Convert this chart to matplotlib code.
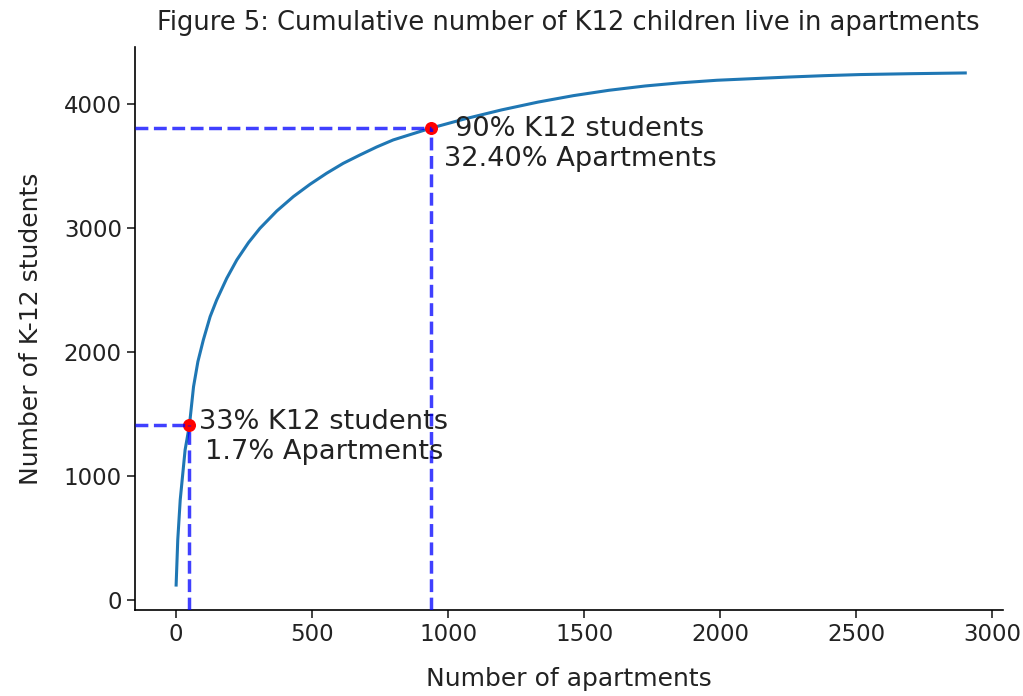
import matplotlib
matplotlib.use('Agg')
import matplotlib.pyplot as plt

# cumulative curve (apartments sorted by number of K12 kids)
apartments = [0, 6, 15, 33, 49, 64, 80, 100, 125, 149, 186, 223, 266, 308, 370, 431, 492,
              553, 614, 676, 737, 798, 859, 935, 1060, 1196, 1330, 1460, 1590, 1724,
              1850, 1987, 2251, 2380, 2514, 2700, 2900]
students = [120, 484, 806, 1210, 1411, 1720, 1922, 2097, 2285, 2419, 2594, 2742, 2882, 2997,
            3137, 3253, 3352, 3441, 3521, 3589, 3653, 3710, 3752, 3804, 3879, 3952, 4015,
            4067, 4110, 4145, 4170, 4191, 4217, 4228, 4237, 4244, 4250]

# marked points
mark_x = [49, 935]
mark_y = [1411, 3804]
mark_labels = ['33% K12 students\n1.7% Apartments', '90% K12 students\n32.40% Apartments']
label_offsets = [(10, -12), (13, -16)]

xlim = (-151, 3037)
ylim = (-81, 4460)

fig = plt.figure(figsize=(10.23, 6.96), dpi=100)
ax = fig.add_axes([0.132, 0.1236, 0.848, 0.809])

ax.plot(apartments, students, color='#1f77b4', lw=2.2)
ax.scatter(mark_x, mark_y, color='red', s=70, zorder=3)

for mx, my in zip(mark_x, mark_y):
    ax.plot([xlim[0], mx], [my, my], color='blue', ls='--', lw=2.5, alpha=0.75, zorder=4)
    ax.plot([mx, mx], [ylim[0], my], color='blue', ls='--', lw=2.5, alpha=0.75, zorder=4)

for mx, my, lab, off in zip(mark_x, mark_y, mark_labels, label_offsets):
    ax.annotate(lab, xy=(mx, my), xytext=off, textcoords='offset pixels',
                ha='left', va='center', multialignment='center', fontsize=19.6, color='#222222')

ax.set_xlim(*xlim)
ax.set_ylim(*ylim)
ax.set_xticks([0, 500, 1000, 1500, 2000, 2500, 3000])
ax.set_yticks([0, 1000, 2000, 3000, 4000])
ax.tick_params(labelsize=16.5, length=6, width=1.2, colors='#222222')
for s in ['top', 'right']:
    ax.spines[s].set_visible(False)
for s in ['left', 'bottom']:
    ax.spines[s].set_linewidth(1.2)

ax.set_xlabel('Number of apartments', fontsize=18, color='#222222', labelpad=15)
ax.set_ylabel('Number of K-12 students', fontsize=18, color='#222222', labelpad=15)
ax.set_title('Figure 5: Cumulative number of K12 children live in apartments', fontsize=18.5,
             color='#222222', pad=12)

fig.savefig('out.png', dpi=100)
